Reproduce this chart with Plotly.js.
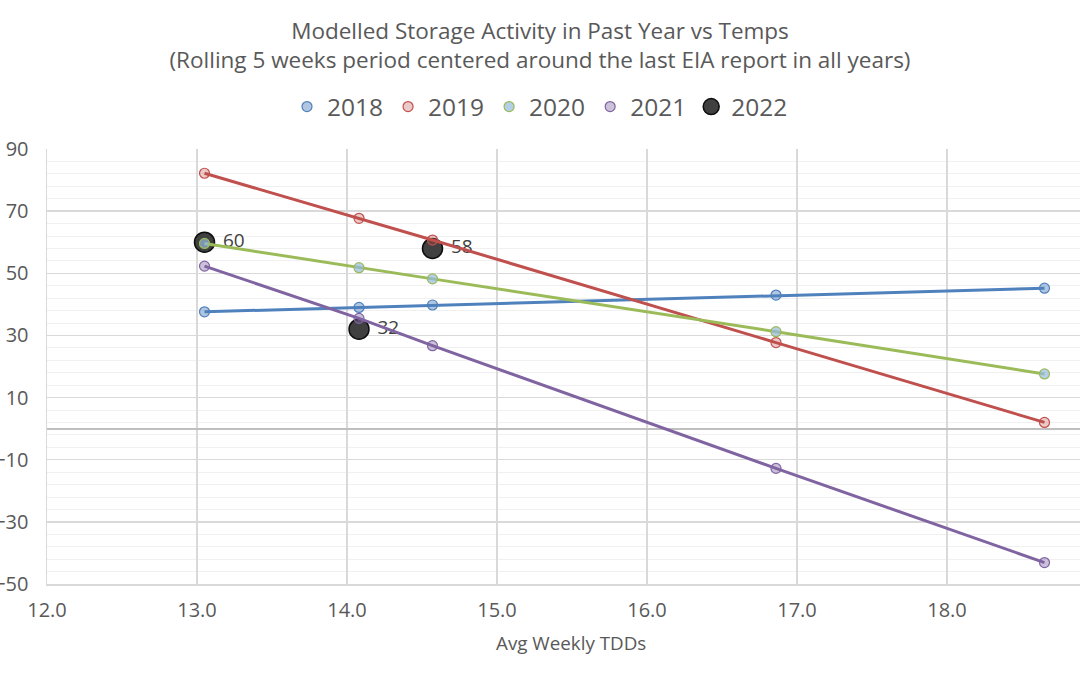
<!DOCTYPE html>
<html>
<head>
<meta charset="utf-8">
<script src="https://cdn.plot.ly/plotly-3.0.1.min.js"></script>
<style>html,body{margin:0;padding:0;background:#fff;}#chart{width:1080px;height:675px;}</style>
</head>
<body>
<div id="chart"></div>
<script>
// x values (Avg Weekly TDDs)
const tdds = [13.05, 14.08, 14.57, 16.86, 18.65];
const s2018 = [37.6, 39.0, 39.8, 43.0, 45.2];
const s2019 = [82.2, 67.7, 60.7, 27.7, 2.0];
const s2020 = [59.6, 51.8, 48.2, 31.2, 17.6];
const s2021 = [52.3, 35.5, 26.7, -12.8, -43.1];
const tdds2022 = [13.05, 14.57, 14.08];
const s2022 = [60, 58, 32];
const years = ['2018', '2019', '2020', '2021', '2022'];
const xTitle = 'Avg Weekly TDDs';

const FONT = 'Open Sans, Liberation Sans, sans-serif';
const GREY = '#595959';

const series = [
  {name: years[0], y: s2018, line: '#4f81bd', fill: 'rgba(79,129,189,0.45)', edge: '#4f81bd'},
  {name: years[1], y: s2019, line: '#c0504d', fill: 'rgba(192,80,77,0.3)', edge: '#c0504d'},
  {name: years[2], y: s2020, line: '#9bbb59', fill: 'rgba(150,185,225,0.7)', edge: '#9bbb59'},
  {name: years[3], y: s2021, line: '#8064a2', fill: 'rgba(128,100,162,0.4)', edge: '#8064a2'}
];

const traces = [];
// 2022 drawn first (beneath the other series)
traces.push({
  x: tdds2022, y: s2022, name: years[4], type: 'scatter', mode: 'markers+text',
  text: s2022.map(v => '\u00a0' + v), textposition: 'middle right',
  textfont: {family: FONT, size: 19, color: '#404040'},
  marker: {size: 20, color: '#404040', line: {color: '#0d0d0d', width: 1.5}},
  legendrank: 5, cliponaxis: false
});
series.forEach((s, i) => {
  traces.push({
    x: tdds, y: s.y, type: 'scatter', mode: 'lines', showlegend: false, hoverinfo: 'skip',
    line: {color: s.line, width: 3}
  });
});
series.forEach((s, i) => {
  traces.push({
    x: tdds, y: s.y, name: s.name, type: 'scatter', mode: 'markers', legendrank: i + 1,
    marker: {size: 10, color: s.fill, line: {color: s.edge, width: 1.2}}
  });
});

const layout = {
  width: 1080, height: 675,
  paper_bgcolor: '#ffffff', plot_bgcolor: '#ffffff',
  margin: {l: 47, r: 0, t: 149, b: 91},
  font: {family: FONT, color: GREY},
  title: {
    text: 'Modelled Storage Activity in Past Year vs Temps<br>(Rolling 5 weeks period centered around the last EIA report in all years)',
    x: 0.5, xanchor: 'center', y: 0.9425, yanchor: 'middle',
    font: {family: FONT, size: 22.5, color: GREY}
  },
  showlegend: true,
  legend: {
    orientation: 'h', xref: 'container', yref: 'container', x: 0.5, xanchor: 'center', y: 0.842, yanchor: 'middle',
    font: {family: FONT, size: 24.5, color: GREY}, traceorder: 'normal'
  },
  xaxis: {
    range: [12, 12 + 1033 / 150], tick0: 12, dtick: 1, tickformat: '.1f',
    showgrid: true, gridcolor: '#d9d9d9', gridwidth: 1.3,
    showline: true, linecolor: '#d9d9d9', linewidth: 1.5, zeroline: false,
    ticks: '', tickfont: {family: FONT, size: 20, color: GREY}, ticklabelstandoff: 7
  },
  yaxis: {
    range: [-50, 90], tick0: -50, dtick: 20,
    showgrid: true, gridcolor: '#d9d9d9', gridwidth: 1.3,
    minor: {tick0: -50, dtick: 4, showgrid: true, gridcolor: '#f0f0f0', gridwidth: 1},
    showline: true, linecolor: '#d9d9d9', linewidth: 1.5,
    zeroline: true, zerolinecolor: '#bfbfbf', zerolinewidth: 2,
    ticks: '', tickfont: {family: FONT, size: 20, color: GREY}, ticklabelstandoff: 13
  },
  annotations: [
    {
      xref: 'paper', yref: 'paper', x: 1, xshift: -3, y: 0, yshift: -24,
      xanchor: 'left', yanchor: 'middle', showarrow: false,
      text: '19.0', font: {family: FONT, size: 20, color: GREY}
    },
    {
      xref: 'paper', yref: 'paper', x: (571 - 47) / 1033, y: 0, yshift: -59,
      xanchor: 'center', yanchor: 'middle', showarrow: false,
      text: xTitle, font: {family: FONT, size: 18.8, color: GREY}
    }
  ]
};

Plotly.newPlot('chart', traces, layout, {displayModeBar: false, staticPlot: true});
</script>
</body>
</html>
